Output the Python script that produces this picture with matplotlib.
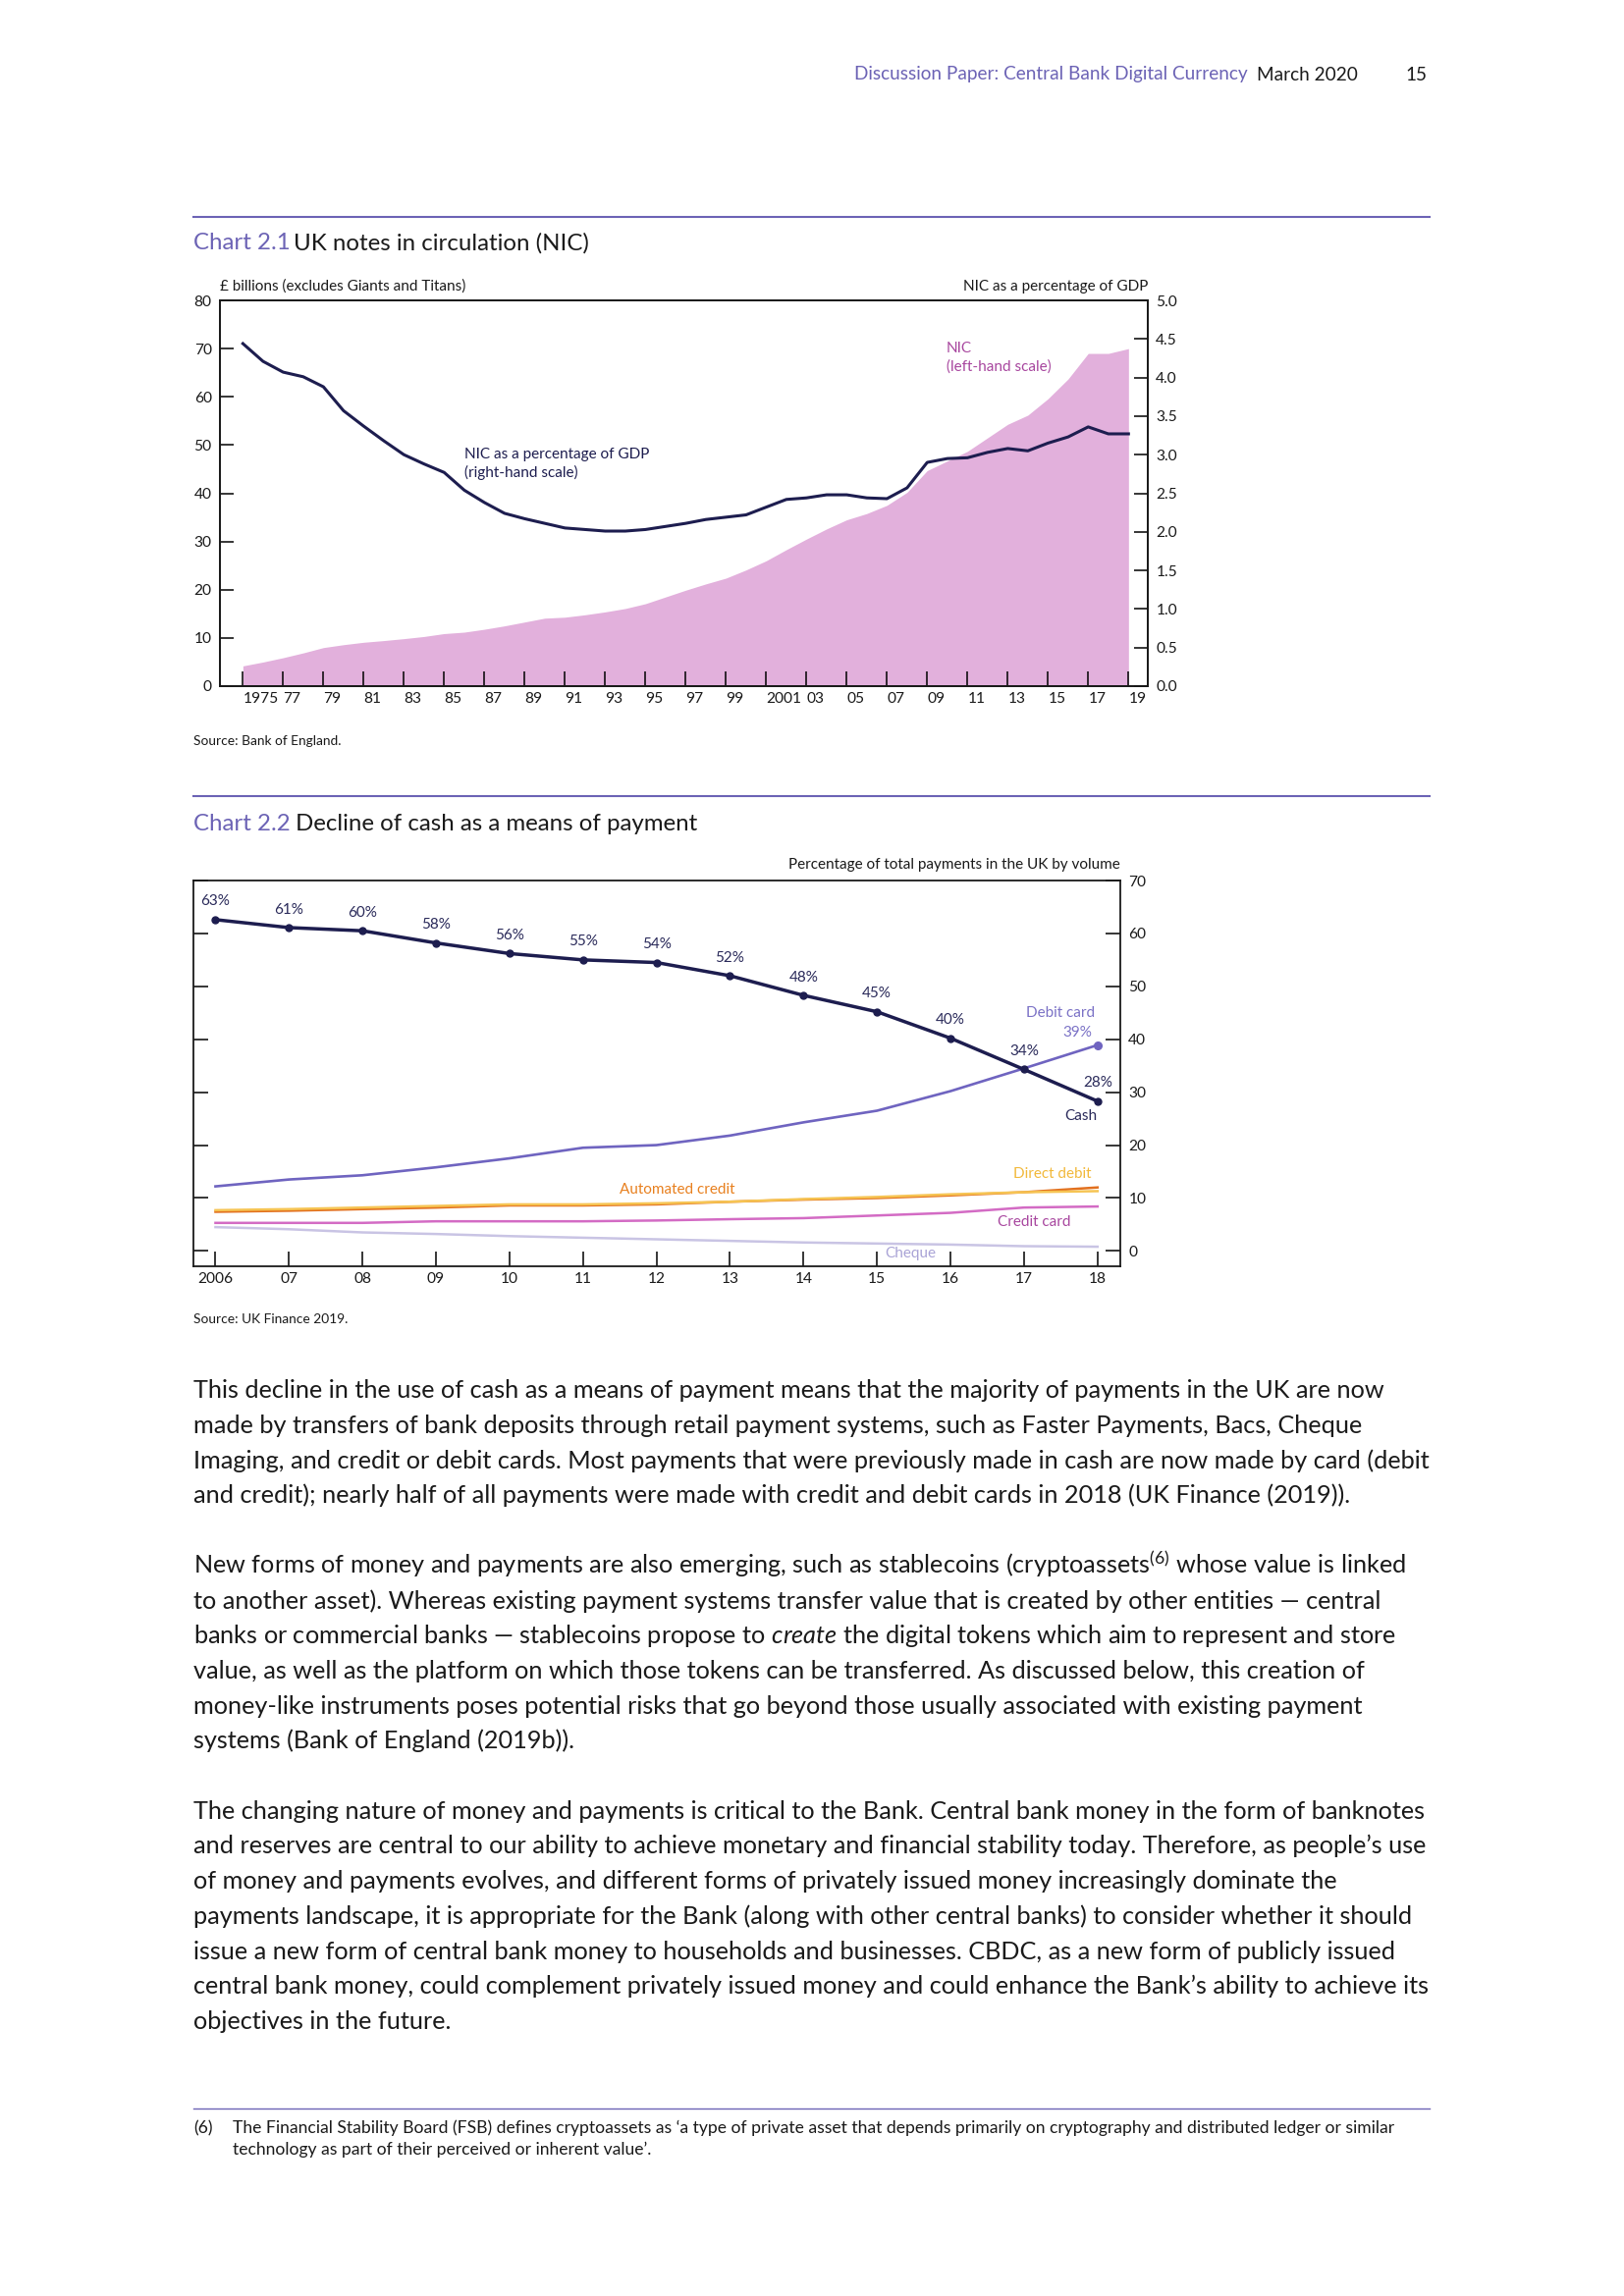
import numpy as np
import matplotlib
matplotlib.use("Agg")
import matplotlib.pyplot as plt
from matplotlib.lines import Line2D

plt.rcParams['font.family'] = ['Lato', 'DejaVu Sans']
plt.rcParams['mathtext.fontset'] = 'custom'
plt.rcParams['mathtext.rm'] = 'Lato'
plt.rcParams['mathtext.it'] = 'Lato:italic'

PURPLE = '#6c63b5'
NAVY = '#1d1d4f'
PINK = '#e2b0dc'
MAGENTA = '#a8479f'
INK = '#1a1a1a'

# Chart 2.1: UK notes in circulation
nic_years = np.arange(1975, 2020)
nic_bn = [4.2, 5.0, 5.9, 6.9, 8.0, 8.6, 9.1, 9.45, 9.85, 10.3, 10.9, 11.2, 11.8, 12.5, 13.3,
          14.1, 14.3, 14.8, 15.4, 16.1, 17.1, 18.5, 19.9, 21.2, 22.4, 24.1, 26.0, 28.3, 30.5,
          32.6, 34.5, 35.8, 37.5, 40.2, 44.7, 46.7, 48.7, 51.5, 54.3, 56.2, 59.6, 63.7, 69.0,
          69.0, 70.0]
nic_gdp = [4.44, 4.21, 4.07, 4.01, 3.88, 3.57, 3.37, 3.18, 3.00, 2.88, 2.77, 2.54, 2.38, 2.24,
           2.17, 2.11, 2.05, 2.03, 2.01, 2.01, 2.03, 2.07, 2.11, 2.16, 2.19, 2.22, 2.32, 2.42,
           2.44, 2.48, 2.48, 2.44, 2.43, 2.57, 2.90, 2.95, 2.96, 3.03, 3.08, 3.05, 3.15, 3.23,
           3.36, 3.27, 3.27]
nic_ticks = np.arange(1975, 2020, 2)
nic_ticklabels = ['1975', '77', '79', '81', '83', '85', '87', '89', '91', '93', '95', '97', '99',
                  '2001', '03', '05', '07', '09', '11', '13', '15', '17', '19']

# Chart 2.2: share of payments by volume (%)
pay_years = np.arange(2006, 2019)
cash = [62.6, 61.1, 60.5, 58.2, 56.2, 55.0, 54.5, 52.0, 48.3, 45.2, 40.2, 34.3, 28.3]
cash_labels = ['63%', '61%', '60%', '58%', '56%', '55%', '54%', '52%', '48%', '45%', '40%', '34%', '28%']
debit_card = [12.2, 13.5, 14.3, 15.8, 17.5, 19.5, 20.0, 21.8, 24.3, 26.5, 30.2, 34.5, 38.9]
auto_credit = [7.4, 7.6, 7.9, 8.2, 8.6, 8.6, 8.8, 9.3, 9.7, 10.0, 10.5, 11.1, 12.0]
direct_debit = [7.7, 7.9, 8.2, 8.5, 8.8, 8.8, 9.0, 9.3, 9.8, 10.2, 10.7, 11.1, 11.3]
credit_card = [5.3, 5.3, 5.3, 5.6, 5.6, 5.6, 5.75, 6.0, 6.2, 6.7, 7.2, 8.2, 8.4]
cheque = [4.5, 4.1, 3.5, 3.2, 2.8, 2.5, 2.2, 1.9, 1.6, 1.4, 1.2, 0.9, 0.8]
pay_ticklabels = ['2006', '07', '08', '09', '10', '11', '12', '13', '14', '15', '16', '17', '18']

body = [
    "This decline in the use of cash as a means of payment means that the majority of payments in the UK are now",
    "made by transfers of bank deposits through retail payment systems, such as Faster Payments, Bacs, Cheque",
    "Imaging, and credit or debit cards. Most payments that were previously made in cash are now made by card (debit",
    "and credit); nearly half of all payments were made with credit and debit cards in 2018 (UK Finance (2019)).",
    "",
    "New forms of money and payments are also emerging, such as stablecoins (cryptoassets$^{\\mathrm{(6)}}$ whose value is linked",
    "to another asset). Whereas existing payment systems transfer value that is created by other entities \u2014 central",
    "banks or commercial banks \u2014 stablecoins propose to $\\mathit{create}$ the digital tokens which aim to represent and store",
    "value, as well as the platform on which those tokens can be transferred. As discussed below, this creation of",
    "money-like instruments poses potential risks that go beyond those usually associated with existing payment",
    "systems (Bank of England (2019b)).",
    "",
    "The changing nature of money and payments is critical to the Bank. Central bank money in the form of banknotes",
    "and reserves are central to our ability to achieve monetary and financial stability today. Therefore, as people\u2019s use",
    "of money and payments evolves, and different forms of privately issued money increasingly dominate the",
    "payments landscape, it is appropriate for the Bank (along with other central banks) to consider whether it should",
    "issue a new form of central bank money to households and businesses. CBDC, as a new form of publicly issued",
    "central bank money, could complement privately issued money and could enhance the Bank\u2019s ability to achieve its",
    "objectives in the future.",
]
footnote = [
    "The Financial Stability Board (FSB) defines cryptoassets as \u2018a type of private asset that depends primarily on cryptography and distributed ledger or similar",
    "technology as part of their perceived or inherent value\u2019.",
]

W, H = 1654, 2339
fig = plt.figure(figsize=(W / 100, H / 100), dpi=100)
renderer = fig.canvas.get_renderer()


def fy(y):
    return 1 - y / H


def fit(s, width):
    # font size that makes s span the given width in pixels
    t = fig.text(0, 0, s, fontsize=20)
    w = t.get_window_extent(renderer).width
    t.remove()
    return 20 * width / w


hdr_fs = fit('Discussion Paper: Central Bank Digital Currency', 402)
ttl_fs = fit('UK notes in circulation (NIC)', 300)
body_fs = fit(body[0], 1213)
foot_fs = fit(footnote[0], 1185)
small_fs = fit('Source: Bank of England.', 150)
note_fs = fit('(left-hand scale)', 107)
tick_fs = fit('1975', 36)

# page header and rules
fig.text(870 / W, fy(76), 'Discussion Paper: Central Bank Digital Currency', color=PURPLE,
         fontsize=hdr_fs, va='center')
fig.text(1280 / W, fy(76), 'March 2020', color=INK, fontsize=hdr_fs, va='center')
fig.text(1453 / W, fy(76), '15', color=INK, fontsize=hdr_fs, va='center', ha='right')
for yy, lw in [(221, 1.5), (811, 1.5), (2148, 1.0)]:
    fig.add_artist(Line2D([197 / W, 1456 / W], [fy(yy), fy(yy)], color=PURPLE, lw=lw))

fig.text(197 / W, fy(248), 'Chart 2.1', color=PURPLE, fontsize=ttl_fs, va='center')
fig.text(299 / W, fy(248), 'UK notes in circulation (NIC)', color=INK, fontsize=ttl_fs, va='center')
fig.text(197 / W, fy(840), 'Chart 2.2', color=PURPLE, fontsize=ttl_fs, va='center')
fig.text(301 / W, fy(840), 'Decline of cash as a means of payment', color=INK, fontsize=ttl_fs, va='center')

# ---- Chart 2.1
ax1 = fig.add_axes([224 / W, 1 - 699 / H, 945 / W, 393 / H])
ax1.fill_between(nic_years, nic_bn, 0, color=PINK, lw=0)
ax1.set_xlim(1973.86, 2019.96)
ax1.set_ylim(0, 80)
ax1.set_yticks(range(0, 81, 10))
ax1.set_xticks(nic_ticks, nic_ticklabels)
for lb in ax1.get_xticklabels():
    lb.set_ha('left')
ax1.tick_params(axis='y', direction='in', length=10, width=1.1, pad=6, labelsize=tick_fs, labelcolor=INK)
ax1.tick_params(axis='x', direction='in', length=10.5, width=1.1, pad=4, labelsize=tick_fs, labelcolor=INK)

ax1r = ax1.twinx()
ax1r.plot(nic_years, nic_gdp, color=NAVY, lw=2.2)
ax1r.set_ylim(0, 5)
ax1r.set_yticks(np.arange(0, 5.01, 0.5))
ax1r.yaxis.set_major_formatter('{x:.1f}')
ax1r.tick_params(direction='in', length=10, width=1.1, pad=6, labelsize=tick_fs, labelcolor=INK)
for a in (ax1, ax1r):
    for sp in a.spines.values():
        sp.set_linewidth(1.3)
        sp.set_color(INK)

ax1.text(2009.96, 68.1, 'NIC\n(left-hand scale)', color=MAGENTA, fontsize=note_fs,
         va='center', linespacing=1.35)
ax1.text(1986.03, 46.1, 'NIC as a percentage of GDP\n(right-hand scale)', color=NAVY,
         fontsize=note_fs, va='center', linespacing=1.35)
fig.text(224 / W, fy(292), '\u00a3 billions (excludes Giants and Titans)', color=INK,
         fontsize=note_fs, va='center')
fig.text(1169 / W, fy(292), 'NIC as a percentage of GDP', color=INK, fontsize=note_fs,
         va='center', ha='right')
fig.text(197 / W, fy(755), 'Source: Bank of England.', color=INK, fontsize=small_fs, va='center')

# ---- Chart 2.2
ax2 = fig.add_axes([197 / W, 1 - 1290 / H, 944 / W, 393 / H])
ax2.plot(pay_years, cheque, color='#c9c4e4', lw=1.8)
ax2.plot(pay_years, credit_card, color='#d36bc4', lw=1.8)
ax2.plot(pay_years, auto_credit, color='#e2701e', lw=1.8)
ax2.plot(pay_years, direct_debit, color='#f6c453', lw=1.8)
ax2.plot(pay_years, debit_card, color='#6f64c0', lw=1.9)
ax2.plot(pay_years[-1:], debit_card[-1:], 'o', color='#6f64c0', ms=5.5)
ax2.plot(pay_years, cash, color=NAVY, lw=2.5, marker='o', ms=5)
ax2.set_xlim(2005.70, 2018.31)
ax2.set_ylim(-2.9, 70)
ax2.set_yticks(range(0, 71, 10))
ax2.set_xticks(pay_years, pay_ticklabels)
ax2.tick_params(axis='y', left=True, right=True, labelleft=False, labelright=True, direction='in',
                length=10.8, width=1.1, pad=6, labelsize=tick_fs, labelcolor=INK)
ax2.tick_params(axis='x', direction='in', length=10.8, width=1.1, pad=4, labelsize=tick_fs, labelcolor=INK)
for sp in ax2.spines.values():
    sp.set_linewidth(1.3)
    sp.set_color(INK)

for x, v, s in zip(pay_years, cash, cash_labels):
    ax2.annotate(s, (x, v), xytext=(0, 13.3), textcoords='offset points', ha='center',
                 va='center', fontsize=note_fs, color='#2a2a5a')
ax2.text(2017.96, 45.05, 'Debit card', color='#7b72c6', fontsize=note_fs, ha='right', va='center')
ax2.text(2017.93, 41.2, '39%', color='#7b72c6', fontsize=note_fs, ha='right', va='center')
ax2.text(2017.99, 25.5, 'Cash', color='#2a2a5a', fontsize=note_fs, ha='right', va='center')
ax2.text(2017.92, 14.5, 'Direct debit', color='#f2b93b', fontsize=note_fs, ha='right', va='center')
ax2.text(2017.64, 5.4, 'Credit card', color=MAGENTA, fontsize=note_fs, ha='right', va='center')
ax2.text(2015.45, -0.45, 'Cheque', color='#a9a3d6', fontsize=note_fs, ha='center', va='center')
ax2.text(2012.28, 11.6, 'Automated credit', color='#e8801f', fontsize=note_fs, ha='center', va='center')
fig.text(1141 / W, fy(881.5), 'Percentage of total payments in the UK by volume', color=INK,
         fontsize=note_fs, ha='right', va='center')
fig.text(197 / W, fy(1344), 'Source: UK Finance 2019.', color=INK, fontsize=small_fs, va='center')

# ---- body text
em = body_fs * 100 / 72
for i, line in enumerate(body):
    if line:
        fig.text(197 / W, fy(1418 + 35.7 * i + 0.25 * em), line, color=INK, fontsize=body_fs,
                 va='baseline')

# ---- footnote
fem = foot_fs * 100 / 72
fig.text(197 / W, fy(2169 + 0.25 * fem), '(6)', color=INK, fontsize=foot_fs, va='baseline')
for i, line in enumerate(footnote):
    fig.text(237 / W, fy(2169 + 22 * i + 0.25 * fem), line, color=INK, fontsize=foot_fs, va='baseline')

fig.savefig('out.png', dpi=100, facecolor='white')
